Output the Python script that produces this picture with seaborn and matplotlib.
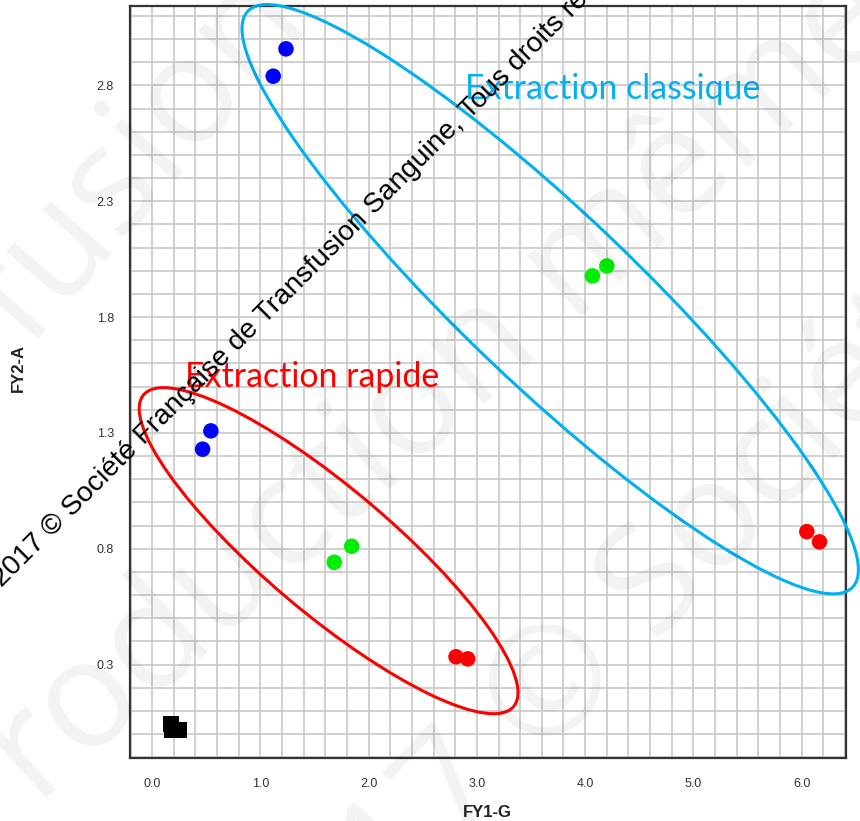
import numpy as np
import pandas as pd
import matplotlib
matplotlib.use("Agg")
import matplotlib.pyplot as plt
import seaborn as sns
from matplotlib.patches import Ellipse
from matplotlib.transforms import Affine2D
from matplotlib.ticker import FixedLocator, FixedFormatter

W, H = 860, 821

# ---- data ----
blue_x = [1.118, 1.236, 0.466, 0.542]
blue_y = [2.840, 2.958, 1.230, 1.309]
green_x = [1.682, 1.843, 4.067, 4.200]
green_y = [0.742, 0.811, 1.978, 2.021]
red_x = [2.807, 2.915, 6.048, 6.165]
red_y = [0.334, 0.325, 0.874, 0.830]
black_x = [0.176, 0.182, 0.247]
black_y = [0.044, 0.018, 0.018]

x_ticks = [0.0, 1.0, 2.0, 3.0, 4.0, 5.0, 6.0]
x_tick_labels = ["0.0", "1.0", "2.0", "3.0", "4.0", "5.0", "6.0"]
y_ticks = [0.3, 0.8, 1.3, 1.8, 2.3, 2.8]
y_tick_labels = ["0.3", "0.8", "1.3", "1.8", "2.3", "2.8"]
x_label = "FY1-G"
y_label = "FY2-A"
label_classique = "Extraction classique"
label_rapide = "Extraction rapide"
copyright_text = "2017 © Société Française de Transfusion Sanguine, Tous droits réservés"
watermark_lines = ["fusion", "roduction même", "2017 © Société Française"]

df = pd.DataFrame({
    "x": blue_x + green_x + red_x,
    "y": blue_y + green_y + red_y,
    "group": ["blue"] * len(blue_x) + ["green"] * len(green_x) + ["red"] * len(red_x),
})
df_black = pd.DataFrame({"x": black_x, "y": black_y, "group": ["black"] * len(black_x)})

sns.set_style("white")
plt.rcParams["font.family"] = ["Liberation Sans", "DejaVu Sans"]

fig = plt.figure(figsize=(W / 100, H / 100), dpi=100)
ax = fig.add_axes([130 / W, 1 - 758 / H, (846 - 130) / W, (758 - 6) / H])

sns.scatterplot(data=df, x="x", y="y", hue="group",
                palette={"blue": "#0000ff", "green": "#00ee00", "red": "#ff0000"},
                s=125, edgecolor="none", legend=False, ax=ax, zorder=3)
sns.scatterplot(data=df_black, x="x", y="y", color="black", marker="s",
                s=130, edgecolor="none", legend=False, ax=ax, zorder=3)

ax.set_xlim(-0.205, 6.41)
ax.set_ylim(-0.103, 3.143)
ax.xaxis.set_major_locator(FixedLocator(x_ticks))
ax.xaxis.set_major_formatter(FixedFormatter(x_tick_labels))
ax.yaxis.set_major_locator(FixedLocator(y_ticks))
ax.yaxis.set_major_formatter(FixedFormatter(y_tick_labels))
ax.xaxis.set_minor_locator(FixedLocator(np.round(np.arange(-0.2, 6.41, 0.2), 2)))
ax.yaxis.set_minor_locator(FixedLocator(np.round(np.arange(-0.1, 3.11, 0.1), 2)))
ax.grid(which="both", color="#c8c8c8", lw=1.2)
ax.set_axisbelow(True)
for sp in ax.spines.values():
    sp.set_color("#333333")
    sp.set_linewidth(1.6)
ax.tick_params(axis="x", which="both", length=4.5, width=1, color="#999999",
               labelsize=9, labelcolor="#333333", pad=10)
ax.tick_params(axis="y", which="major", length=9.5, width=1, color="#999999",
               labelsize=9, labelcolor="#333333", pad=2)
ax.tick_params(axis="y", which="minor", length=5, width=1, color="#999999")
ax.set_xlabel("")
ax.set_ylabel("")


def fx(px):
    return px / W


def fy(py):
    return 1 - py / H


fig.text(fx(487), fy(817), x_label, ha="center", va="baseline",
         fontsize=12, fontweight="bold", color="#222222")
fig.text(fx(18.5), fy(367.5), y_label, ha="center", va="center", rotation=90,
         fontsize=12, fontweight="bold", color="#222222")

# ---- group ellipses (annotation shapes, in figure pixels, y downward) ----
T = Affine2D().scale(1 / W, -1 / H).translate(0, 1) + fig.transFigure
for (cx, cy, a, b, ang, col) in [(550.2, 299.2, 417.6, 86.2, 43.6, "#00b0f0"),
                                 (328.6, 550.7, 241.9, 62.8, 40.1, "#ff0000")]:
    e = Ellipse((cx, cy), 2 * a, 2 * b, angle=ang, fill=False, edgecolor=col,
                lw=2.2, transform=T, zorder=6)
    e.set_clip_on(False)
    fig.add_artist(e)

fig.text(fx(465), fy(98.6), label_classique, ha="left", va="baseline",
         fontsize=24.4, family="Lato", color="#00b0f0", zorder=7)
fig.text(fx(185), fy(387), label_rapide, ha="left", va="baseline",
         fontsize=24.4, family="Lato", color="#ff0000", zorder=7)

fig.text(fx(2), fy(588), copyright_text, ha="left", va="baseline", rotation=45,
         rotation_mode="anchor", fontsize=20.3, color="black", zorder=8)

# ---- faint background watermark ----
for txt, (px, py), rot in zip(watermark_lines,
                              [(27, 349), (37, 806), (276, 1037)],
                              [49, 42, 46]):
    fig.text(fx(px), fy(py), txt, ha="left", va="baseline", rotation=rot,
             rotation_mode="anchor", fontsize=108, family="Open Sans",
             color="black", alpha=0.05, zorder=9)

fig.savefig("out.png", dpi=100)
